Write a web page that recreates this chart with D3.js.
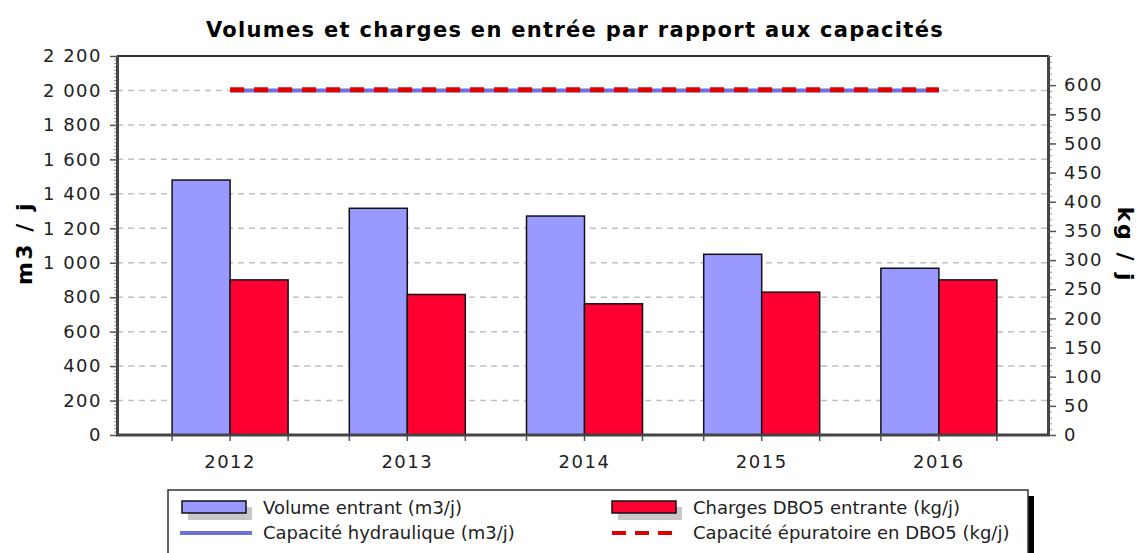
<!DOCTYPE html>
<html>
<head>
<meta charset="utf-8">
<script src="https://cdn.jsdelivr.net/npm/d3@7"></script>
<style>
  body { margin: 0; background: #fff; }
  text { font-family: "DejaVu Sans", Verdana, sans-serif; }
</style>
</head>
<body>
<script>
// data
const years = ["2012", "2013", "2014", "2015", "2016"];
const volumeIn = [1480, 1316, 1271, 1049, 968];     // m3/j (left axis)
const chargesIn = [266, 241, 225, 245, 266];        // kg/j (right axis)
const capHydraulique = [2000, 2000, 2000, 2000, 2000];
const capEpuratoire = [592, 592, 592, 592, 592];
const leftTicks = d3.range(0, 2201, 200);
const rightTicks = d3.range(0, 601, 50);

const W = 1138, H = 553;
const plot = {x: 117, y: 56, r: 1048, b: 435};

const svg = d3.select("body").append("svg")
    .attr("width", W).attr("height", H);

const fr = d3.formatLocale({thousands: " ", grouping: [3], decimal: ",", currency: ["", ""]});
const fmt = fr.format(",d");

const x = d3.scaleBand().domain(years).range([plot.x + 24.5, plot.r - 20.5]);
const yL = d3.scaleLinear().domain([0, 2200]).range([plot.b, plot.y]);
const yR = d3.scaleLinear().domain([0, 650]).range([plot.b, plot.y]);
const barW = 58;

// title
svg.append("text")
    .attr("x", 575).attr("y", 37)
    .attr("text-anchor", "middle")
    .style("font-size", "21px").style("font-weight", "bold")
    .style("letter-spacing", "1.3px")
    .text("Volumes et charges en entrée par rapport aux capacités");

// grid
svg.append("g").selectAll("line")
    .data(leftTicks.filter(d => d > 0 && d < 2200))
    .join("line")
    .attr("x1", plot.x).attr("x2", plot.r)
    .attr("y1", d => yL(d)).attr("y2", d => yL(d))
    .attr("stroke", "#c0c0c0").attr("stroke-width", 1.5)
    .attr("stroke-dasharray", "6,5");

// bars
const grp = svg.append("g").selectAll("g")
    .data(years)
    .join("g")
    .attr("transform", d => `translate(${x(d) + x.bandwidth() / 2},0)`);

grp.append("rect")
    .attr("x", -barW).attr("width", barW)
    .attr("y", (d, i) => yL(volumeIn[i]))
    .attr("height", (d, i) => plot.b - yL(volumeIn[i]))
    .attr("fill", "#9999ff").attr("stroke", "#111").attr("stroke-width", 1.5);

grp.append("rect")
    .attr("x", 0).attr("width", barW)
    .attr("y", (d, i) => yR(chargesIn[i]))
    .attr("height", (d, i) => plot.b - yR(chargesIn[i]))
    .attr("fill", "#ff0033").attr("stroke", "#111").attr("stroke-width", 1.5);

// capacity lines
const cx = d => x(d) + x.bandwidth() / 2;
svg.append("path")
    .datum(years)
    .attr("d", d3.line().x(cx).y((d, i) => yL(capHydraulique[i])))
    .attr("fill", "none").attr("stroke", "#7070dd").attr("stroke-width", 4);
svg.append("path")
    .datum(years)
    .attr("d", d3.line().x(cx).y((d, i) => yR(capEpuratoire[i])))
    .attr("fill", "none").attr("stroke", "#dd0000").attr("stroke-width", 5)
    .attr("stroke-dasharray", "14,10");

// frame top / right
svg.append("path")
    .attr("d", `M${plot.x},${plot.y}H${plot.r}V${plot.b}`)
    .attr("fill", "none").attr("stroke", "#333").attr("stroke-width", 2);

// left axis
const axStyle = g => {
    g.select(".domain").attr("stroke", "#444").attr("stroke-width", 3);
    g.selectAll(".tick line").attr("stroke", "#555").attr("stroke-width", 1.5);
};
const tickText = g => g.selectAll("text").style("font-size", "18px").style("letter-spacing", "1.5px").attr("fill", "#222");
svg.append("g").attr("transform", `translate(${plot.x},0)`)
    .call(d3.axisLeft(yL).tickValues(d3.range(0, 2201, 20)).tickSize(3).tickFormat("").tickSizeOuter(0))
    .call(g => { g.select(".domain").remove(); g.selectAll(".tick line").attr("stroke", "#999").attr("stroke-width", 1); });
svg.append("g").attr("transform", `translate(${plot.x},0)`)
    .call(d3.axisLeft(yL).tickValues(leftTicks).tickSize(7).tickPadding(8).tickFormat(fmt).tickSizeOuter(0))
    .call(axStyle)
    .call(tickText);

// right axis
svg.append("g").attr("transform", `translate(${plot.r},0)`)
    .call(d3.axisRight(yR).tickValues(d3.range(0, 651, 10)).tickSize(4).tickFormat("").tickSizeOuter(0))
    .call(g => { g.select(".domain").remove(); g.selectAll(".tick line").attr("stroke", "#999").attr("stroke-width", 1); });
svg.append("g").attr("transform", `translate(${plot.r},0)`)
    .call(d3.axisRight(yR).tickValues(rightTicks).tickSize(8).tickPadding(8).tickSizeOuter(0))
    .call(axStyle)
    .call(tickText);

// bottom axis: ticks at bar edges
const edges = [];
years.forEach(y => { const c = cx(y); edges.push(c - barW, c, c + barW); });
svg.append("g").selectAll("line")
    .data(edges).join("line")
    .attr("x1", d => d).attr("x2", d => d)
    .attr("y1", plot.b).attr("y2", plot.b + 6)
    .attr("stroke", "#555").attr("stroke-width", 1.5);
svg.append("line")
    .attr("x1", plot.x - 1).attr("x2", plot.r + 1)
    .attr("y1", plot.b).attr("y2", plot.b)
    .attr("stroke", "#444").attr("stroke-width", 3);
svg.append("g").selectAll("text")
    .data(years).join("text")
    .attr("x", cx).attr("y", 468)
    .attr("text-anchor", "middle")
    .style("font-size", "18px").style("letter-spacing", "1.5px").attr("fill", "#222")
    .text(d => d);

// axis titles
svg.append("text")
    .attr("transform", "translate(32,243) rotate(-90)")
    .attr("text-anchor", "middle")
    .style("font-size", "22px").style("font-weight", "bold").style("letter-spacing", "2.5px")
    .text("m3 / j");
svg.append("text")
    .attr("transform", "translate(1118,245) rotate(90)")
    .attr("text-anchor", "middle")
    .style("font-size", "22px").style("font-weight", "bold").style("letter-spacing", "2.5px")
    .text("kg / j");

// legend
const legendItems = [
    {label: "Volume entrant (m3/j)", type: "bar", color: "#9999ff", col: 0, row: 0},
    {label: "Charges DBO5 entrante (kg/j)", type: "bar", color: "#ff0033", col: 1, row: 0},
    {label: "Capacité hydraulique (m3/j)", type: "line", color: "#7070dd", col: 0, row: 1},
    {label: "Capacité épuratoire en DBO5 (kg/j)", type: "dash", color: "#dd0000", col: 1, row: 1}
];
const lg = svg.append("g");
lg.append("rect").attr("x", 174).attr("y", 496).attr("width", 860).attr("height", 70).attr("fill", "#000");
lg.append("rect").attr("x", 168).attr("y", 490).attr("width", 860).attr("height", 70)
    .attr("fill", "#fff").attr("stroke", "#333").attr("stroke-width", 1.5);
const colX = [182, 612];
const rowY = [507, 532];
const li = lg.selectAll("g.item").data(legendItems).join("g")
    .attr("class", "item")
    .attr("transform", d => `translate(${colX[d.col]},${rowY[d.row]})`);
li.filter(d => d.type === "bar").each(function(d) {
    const s = d3.select(this);
    s.append("rect").attr("x", 6).attr("y", 0).attr("width", 64).attr("height", 13).attr("fill", "#c8c8c8");
    s.append("rect").attr("x", 0).attr("y", -6).attr("width", 64).attr("height", 12)
        .attr("fill", d.color).attr("stroke", "#111").attr("stroke-width", 1.5);
});
li.filter(d => d.type !== "bar").append("line")
    .attr("x1", d => d.type === "line" ? -2 : 0).attr("x2", d => d.type === "line" ? 70 : 62)
    .attr("y1", 1).attr("y2", 1)
    .attr("stroke", d => d.color).attr("stroke-width", 4)
    .attr("stroke-dasharray", d => d.type === "dash" ? "14,9" : null);
li.append("text")
    .attr("x", 81).attr("y", 7)
    .style("font-size", "18px").attr("fill", "#222")
    .text(d => d.label);
</script>
</body>
</html>
